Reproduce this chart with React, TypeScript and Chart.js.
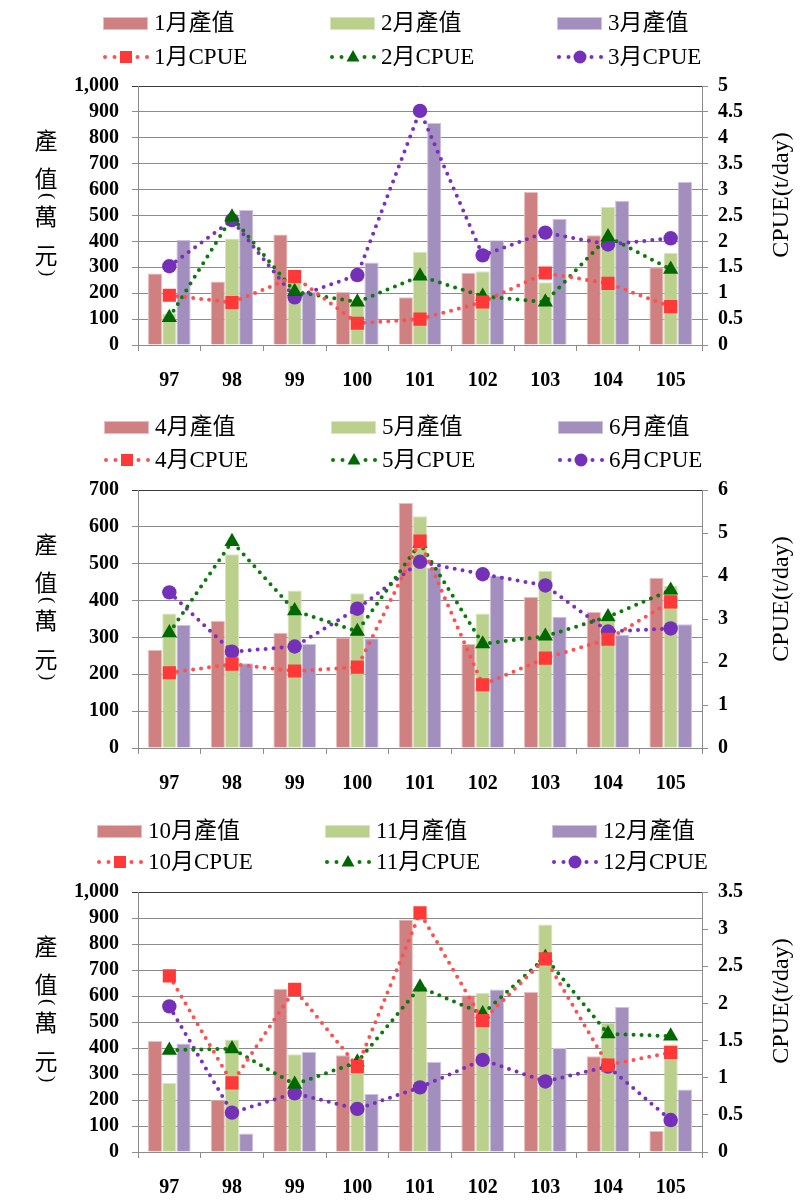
import React, { useEffect, useRef } from "react";
import { Chart, registerables } from "chart.js";

Chart.register(...registerables);

// ---------- DATA ----------
const years = ["97", "98", "99", "100", "101", "102", "103", "104", "105"];

const monthsA = ["1", "2", "3"];
const janValue = [276, 245, 427, 205, 184, 279, 591, 424, 300];
const febValue = [122, 411, 240, 175, 360, 285, 242, 533, 355];
const marValue = [405, 521, 205, 319, 857, 404, 487, 557, 629];
const janCpue = [0.96, 0.82, 1.32, 0.42, 0.5, 0.83, 1.39, 1.19, 0.74];
const febCpue = [0.53, 2.47, 1.03, 0.83, 1.33, 0.94, 0.83, 2.09, 1.46];
const marCpue = [1.52, 2.41, 0.92, 1.35, 4.52, 1.73, 2.17, 1.94, 2.06];

const monthsB = ["4", "5", "6"];
const aprValue = [266, 345, 313, 300, 665, 282, 410, 369, 462];
const mayValue = [365, 526, 427, 420, 629, 365, 481, 345, 440];
const junValue = [334, 230, 282, 298, 490, 467, 356, 307, 336];
const aprCpue = [1.75, 1.95, 1.79, 1.88, 4.81, 1.47, 2.09, 2.53, 3.4];
const mayCpue = [2.68, 4.8, 3.19, 2.71, 4.76, 2.42, 2.6, 3.05, 3.67];
const junCpue = [3.62, 2.24, 2.36, 3.24, 4.33, 4.04, 3.78, 2.71, 2.78];

const monthsC = ["10", "11", "12"];
const octValue = [427, 201, 628, 372, 894, 603, 615, 368, 81];
const novValue = [265, 433, 376, 333, 630, 612, 875, 496, 414];
const decValue = [417, 71, 385, 223, 346, 625, 400, 558, 240];
const octCpue = [2.37, 0.93, 2.19, 1.15, 3.22, 1.77, 2.6, 1.17, 1.34];
const novCpue = [1.37, 1.39, 0.91, 1.21, 2.22, 1.86, 2.62, 1.59, 1.56];
const decCpue = [1.96, 0.53, 0.79, 0.58, 0.87, 1.24, 0.95, 1.15, 0.43];

// vertical title: characters, "(" and ")" are drawn turned a quarter
const leftTitleChars = ["產", "值", "(", "萬", "元", ")"];
const rightTitle = "CPUE(t/day)";

// ---------- STYLE ----------
const SERIF = "'Liberation Serif', 'Times New Roman', serif";
const CJK = "'Liberation Serif', 'Noto Sans CJK TC', serif";
const BAR_FILL = ["rgb(207,128,128)", "rgb(187,208,140)", "rgb(163,143,190)"];
const BAR_EDGE = ["rgb(232,190,190)", "rgb(216,230,190)", "rgb(205,195,222)"];
const LINE_COL = ["#ff5050", "#0a7a0a", "#7a2fc0"];
const MARK_COL = ["#ff3838", "#006800", "#7430b8"];
const MARK_STYLE = ["rect", "triangle", "circle"];
const MARK_R = [9.3, 8.8, 7.2];
const GRID = "#8c8c8c";

type Spec = {
  top: number;
  height: number;
  plotTop: number;
  plotBottom: number;
  months: string[];
  values: number[][];
  cpue: number[][];
  yMax: number;
  yStep: number;
  y2Max: number;
  y2Step: number;
  legendRows: [number, number];
  legendCols: number[];
};

const specs: Spec[] = [
  {
    top: 0, height: 400, plotTop: 86, plotBottom: 345,
    months: monthsA, values: [janValue, febValue, marValue], cpue: [janCpue, febCpue, marCpue],
    yMax: 1000, yStep: 100, y2Max: 5, y2Step: 0.5,
    legendRows: [23, 57], legendCols: [103, 330, 557],
  },
  {
    top: 400, height: 400, plotTop: 490, plotBottom: 748,
    months: monthsB, values: [aprValue, mayValue, junValue], cpue: [aprCpue, mayCpue, junCpue],
    yMax: 700, yStep: 100, y2Max: 6, y2Step: 1,
    legendRows: [427, 460], legendCols: [104, 331, 558],
  },
  {
    top: 800, height: 400, plotTop: 892, plotBottom: 1152,
    months: monthsC, values: [octValue, novValue, decValue], cpue: [octCpue, novCpue, decCpue],
    yMax: 1000, yStep: 100, y2Max: 3.5, y2Step: 0.5,
    legendRows: [831, 862], legendCols: [97, 325, 552],
  },
];

const PLOT_LEFT = 138;
const PLOT_RIGHT = 702;
const WIDTH = 812;

function Panel({ spec }: { spec: Spec }) {
  const ref = useRef<HTMLCanvasElement>(null);
  useEffect(() => {
    const canvas = ref.current!;
    const datasets: any[] = [];
    spec.months.forEach((m, i) => {
      datasets.push({
        type: "bar",
        label: m + "月產值",
        data: spec.values[i],
        yAxisID: "y",
        order: 2,
        backgroundColor: BAR_FILL[i],
        borderColor: BAR_EDGE[i],
        borderWidth: 1,
        categoryPercentage: 0.68,
        barPercentage: 1,
      });
    });
    spec.months.forEach((m, i) => {
      datasets.push({
        type: "line",
        label: m + "月CPUE",
        data: spec.cpue[i],
        yAxisID: "y2",
        order: 1,
        borderColor: LINE_COL[i],
        borderWidth: 4,
        borderDash: [0, 8],
        borderCapStyle: "round",
        tension: 0,
        fill: false,
        pointStyle: MARK_STYLE[i],
        pointRadius: MARK_R[i],
        pointBackgroundColor: MARK_COL[i],
        pointBorderColor: MARK_COL[i],
        pointBorderWidth: 0,
      });
    });

    const titles = {
      id: "axisTitles",
      afterDraw(chart: any) {
        const ctx = chart.ctx;
        const area = chart.chartArea;
        ctx.save();
        ctx.fillStyle = "#000";
        const offs = [54, 92, 110, 130, 169, 187];
        leftTitleChars.forEach((c, k) => {
          const y = area.top + offs[k];
          if (c === "(" || c === ")") {
            ctx.save();
            ctx.font = "19px " + SERIF;
            ctx.textAlign = "left";
            ctx.textBaseline = "alphabetic";
            const mt = ctx.measureText(c);
            const dx = (mt.actualBoundingBoxLeft - mt.actualBoundingBoxRight) / 2;
            const dy = (mt.actualBoundingBoxAscent - mt.actualBoundingBoxDescent) / 2;
            ctx.translate(46, y);
            ctx.rotate(Math.PI / 2);
            ctx.fillText(c, dx, dy);
            ctx.restore();
          } else {
            ctx.textAlign = "center";
            ctx.textBaseline = "middle";
            ctx.font = "23px 'Noto Sans CJK TC', serif";
            ctx.fillText(c, 46, y);
          }
        });
        ctx.textAlign = "center";
        ctx.textBaseline = "middle";
        ctx.font = "24px " + SERIF;
        ctx.translate(782, area.top + 109);
        ctx.rotate(-Math.PI / 2);
        ctx.fillText(rightTitle, 0, 0);
        ctx.restore();
      },
    };

    const tickFont = { family: SERIF, size: 20, weight: "bold" as const };

    const chart = new Chart(canvas, {
      type: "bar",
      data: { labels: years, datasets },
      options: {
        responsive: false,
        animation: false,
        layout: { padding: { top: spec.plotTop - spec.top, left: 0, right: 0, bottom: 0 } },
        plugins: { legend: { display: false }, tooltip: { enabled: false } },
        scales: {
          x: {
            grid: { offset: true, drawOnChartArea: false, tickLength: 6, color: GRID },
            border: { color: GRID },
            ticks: { font: { family: SERIF, size: 20, weight: "bold" }, color: "#000", padding: 18, autoSkip: false },
            afterFit: (s: any) => {
              s.height = spec.top + spec.height - spec.plotBottom;
            },
          },
          y: {
            position: "left",
            min: 0,
            max: spec.yMax,
            ticks: {
              stepSize: spec.yStep,
              autoSkip: false,
              font: tickFont,
              color: "#000",
              padding: 13,
              callback: (v: any) => Number(v).toLocaleString("en-US"),
            },
            grid: {
              tickLength: 6,
              color: (c: any) => (c.tick && c.tick.value === spec.yMax ? "#3a3a3a" : GRID),
            },
            border: { color: GRID },
            afterFit: (s: any) => {
              s.width = PLOT_LEFT;
            },
          },
          y2: {
            position: "right",
            min: 0,
            max: spec.y2Max,
            ticks: {
              stepSize: spec.y2Step,
              autoSkip: false,
              font: tickFont,
              color: "#000",
              padding: 10,
              callback: (v: any) => String(Number(v)),
            },
            grid: { drawOnChartArea: false, tickLength: 6, color: GRID },
            border: { color: GRID },
            afterFit: (s: any) => {
              s.width = WIDTH - PLOT_RIGHT;
            },
          },
        },
      } as any,
      plugins: [titles],
    });
    return () => chart.destroy();
  }, [spec]);

  return (
    <canvas
      ref={ref}
      width={WIDTH}
      height={spec.height}
      style={{ position: "absolute", left: 0, top: spec.top, width: WIDTH, height: spec.height }}
    />
  );
}

function LineSwatch({ i }: { i: number }) {
  const c = LINE_COL[i];
  const m = MARK_COL[i];
  const cy = 8;
  let marker: React.ReactNode;
  if (i === 0) marker = <rect x={17} y={cy - 6} width={12} height={12} fill={m} />;
  else if (i === 1)
    marker = <polygon points={`23,${cy - 7} ${29.5},${cy + 4.5} ${16.5},${cy + 4.5}`} fill={m} />;
  else marker = <circle cx={23} cy={cy} r={6.5} fill={m} />;
  return (
    <svg width={46} height={16} style={{ display: "block" }}>
      {[2, 11.5, 34.5, 44].map((x) => (
        <circle key={x} cx={x} cy={cy} r={2} fill={c} />
      ))}
      {marker}
    </svg>
  );
}

function Legend({ spec }: { spec: Spec }) {
  const items: React.ReactNode[] = [];
  spec.months.forEach((m, i) => {
    const x = spec.legendCols[i];
    items.push(
      <div
        key={"b" + i}
        style={{ position: "absolute", left: x, top: spec.legendRows[0] - 14, height: 28, display: "flex", alignItems: "center", whiteSpace: "nowrap" }}
      >
        <div style={{ width: 43, height: 11, background: BAR_FILL[i], border: "1px solid " + BAR_EDGE[i] }} />
        <span style={{ marginLeft: 6, fontFamily: CJK, fontSize: 23, lineHeight: "28px", color: "#000" }}>{m + "月產值"}</span>
      </div>
    );
    items.push(
      <div
        key={"l" + i}
        style={{ position: "absolute", left: x, top: spec.legendRows[1] - 14, height: 28, display: "flex", alignItems: "center", whiteSpace: "nowrap" }}
      >
        <LineSwatch i={i} />
        <span style={{ marginLeft: 5, fontFamily: CJK, fontSize: 23, lineHeight: "28px", color: "#000" }}>{m + "月CPUE"}</span>
      </div>
    );
  });
  return <>{items}</>;
}

export default function App() {
  return (
    <div style={{ position: "absolute", left: 0, top: 0, width: WIDTH, height: 1200, background: "#fff" }}>
      {specs.map((s, k) => (
        <React.Fragment key={k}>
          <Panel spec={s} />
          <Legend spec={s} />
        </React.Fragment>
      ))}
    </div>
  );
}
